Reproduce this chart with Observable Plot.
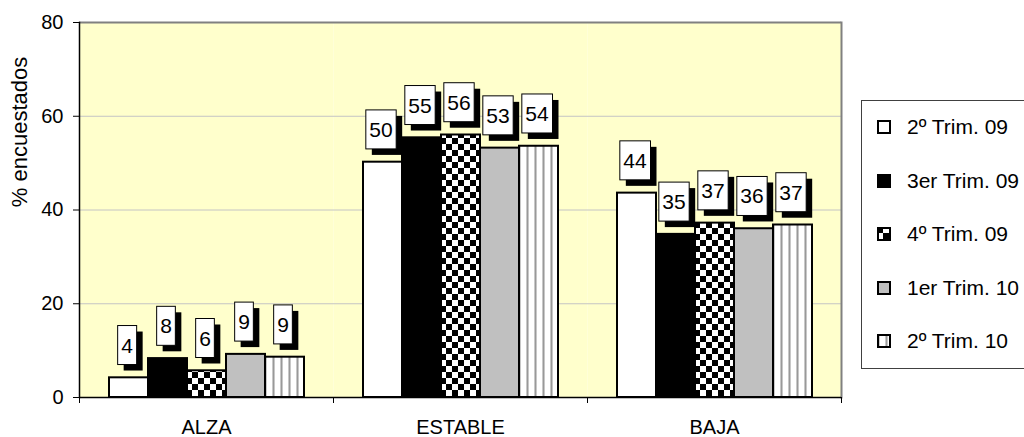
<!DOCTYPE html>
<html><head><meta charset="utf-8">
<script src="https://cdn.jsdelivr.net/npm/d3@7"></script>
<script src="https://cdn.jsdelivr.net/npm/@observablehq/plot@0.6"></script>
<style>
body{margin:0;background:#fff;font-family:Arial,"Liberation Sans",sans-serif;}
#wrap{position:relative;width:1024px;height:437px;overflow:hidden;}
#legend{position:absolute;left:861px;top:100px;width:200px;height:269px;border:1px solid #404040;background:#fff;box-sizing:border-box;}
.item{position:absolute;left:15px;display:flex;align-items:center;height:26px;font-size:21px;white-space:nowrap;color:#000;}
.item svg{margin-right:16px;display:block}
#ytitle{position:absolute;left:20px;top:132px;font-size:22px;white-space:nowrap;transform:translate(-50%,-50%) rotate(-90deg);color:#000;line-height:1}
</style></head><body><div id="wrap"><div id="legend"></div><div id="ytitle"></div></div>
<script>
const categories = ["ALZA", "ESTABLE", "BAJA"];
const series = ["2º Trim. 09", "3er Trim. 09", "4º Trim. 09", "1er Trim. 10", "2º Trim. 10"];
const alza = [4.2, 8.3, 5.7, 9.2, 8.6];
const estable = [50.2, 55.4, 56.0, 53.2, 53.6];
const baja = [43.6, 34.8, 37.2, 36.0, 36.8];
const yTicks = [0, 20, 40, 60, 80];
const yTitle = "% encuestados";
const fills = ["#ffffff", "#000000", "url(#checker)", "#c0c0c0", "url(#stripes)"];

const valuesByCat = [alza, estable, baja];
const rows = categories.flatMap((c, ci) => series.map((s, si) => ({cat: c, series: s, value: valuesByCat[ci][si]})));

const W = 1024, H = 437, mL = 79, mR = 183, mT = 22, mB = 40;
const halfBand = (W - mL - mR) / categories.length / 2;

const chart = Plot.plot({
  width: W, height: H,
  marginLeft: mL, marginRight: mR, marginTop: mT, marginBottom: mB,
  style: {fontFamily: "Arial, 'Liberation Sans', sans-serif", fontSize: "20px", background: "transparent", overflow: "visible"},
  fx: {domain: categories, padding: 0, label: null},
  x: {domain: series, paddingInner: 0, paddingOuter: 0.72, axis: null},
  y: {domain: [0, 80], label: null},
  color: {domain: series, range: fills},
  marks: [
    Plot.frame({fill: "#ffffcc"}),
    Plot.ruleY(yTicks.slice(1, -1), {stroke: "#c4c4c4"}),
    Plot.ruleY([80], {stroke: "#808080", strokeWidth: 2}),
    Plot.frame({facet: "super", anchor: "right", stroke: "#808080", strokeWidth: 2}),
    Plot.barY(rows, {fx: "cat", x: "series", y: "value", fill: "series", stroke: "black", strokeWidth: 2}),
    Plot.frame({facet: "super", anchor: "left", stroke: "black", strokeWidth: 1.5}),
    Plot.ruleY([0], {stroke: "black", strokeWidth: 1.5}),
    Plot.axisY(yTicks, {tickSize: 6, tickPadding: 10, label: null, fontSize: 20}),
    Plot.axisFx({anchor: "bottom", tickSize: 0, tickPadding: 22, label: null, fontSize: 20}),
    Plot.axisFx({anchor: "bottom", tickSize: 6, text: null, label: null, dx: -halfBand}),
    Plot.axisFx({anchor: "bottom", tickSize: 6, text: null, label: null, dx: halfBand}),
    Plot.text(rows, {fx: "cat", x: "series", y: "value", text: d => String(Math.round(d.value)), dy: -32, dx: -2, fontSize: 21, lineAnchor: "middle", fill: "black"})
  ]
});

document.getElementById("wrap").prepend(chart);
document.getElementById("ytitle").textContent = yTitle;

// pattern definitions
const svg = d3.select(chart);
const defs = svg.insert("defs", ":first-child");
const chk = defs.append("pattern").attr("id", "checker").attr("patternUnits", "userSpaceOnUse").attr("width", 12).attr("height", 12);
chk.append("rect").attr("width", 12).attr("height", 12).attr("fill", "#fff");
chk.append("rect").attr("width", 6).attr("height", 6).attr("fill", "#000");
chk.append("rect").attr("x", 6).attr("y", 6).attr("width", 6).attr("height", 6).attr("fill", "#000");
const str = defs.append("pattern").attr("id", "stripes").attr("patternUnits", "userSpaceOnUse").attr("width", 8).attr("height", 8);
str.append("rect").attr("width", 8).attr("height", 8).attr("fill", "#fff");
str.append("rect").attr("x", 0).attr("width", 3).attr("height", 8).attr("fill", "#c8c8c8");
str.append("rect").attr("x", 1).attr("width", 1).attr("height", 8).attr("fill", "#999");

// label boxes with shadow (only the numeric value labels, not axis ticks)
chart.querySelectorAll("text").forEach(t => {
  if (!/^\d+$/.test(t.textContent.trim())) return;
  const labelled = t.closest("[aria-label]");
  const al = labelled ? labelled.getAttribute("aria-label") : "";
  if (/tick|axis/.test(al)) return;
  const b = t.getBBox();
  const padX = 3.5, padY = 8;
  const p = t.parentNode;
  for (const [off, fill, stroke] of [[6, "#000", "none"], [0, "#fff", "#000"]]) {
    const el = document.createElementNS("http://www.w3.org/2000/svg", "rect");
    el.setAttribute("x", b.x - padX + off);
    el.setAttribute("y", b.y - padY + off);
    el.setAttribute("width", b.width + 2 * padX);
    el.setAttribute("height", b.height + 2 * padY);
    el.setAttribute("fill", fill);
    el.setAttribute("stroke", stroke);
    if (t.getAttribute("transform")) el.setAttribute("transform", t.getAttribute("transform"));
    p.insertBefore(el, t);
  }
});

// legend
const legend = d3.select("#legend");
series.forEach((s, i) => {
  const item = legend.append("div").attr("class", "item").style("top", (27 + i * 53.5 - 13 - 1) + "px");
  const sw = item.append("svg").attr("width", 14).attr("height", 14);
  sw.append("rect").attr("x", 1).attr("y", 1).attr("width", 12).attr("height", 12)
    .attr("fill", fills[i]).attr("stroke", "#000").attr("stroke-width", 2);
  item.append("span").text(s);
});
</script>
</body></html>
